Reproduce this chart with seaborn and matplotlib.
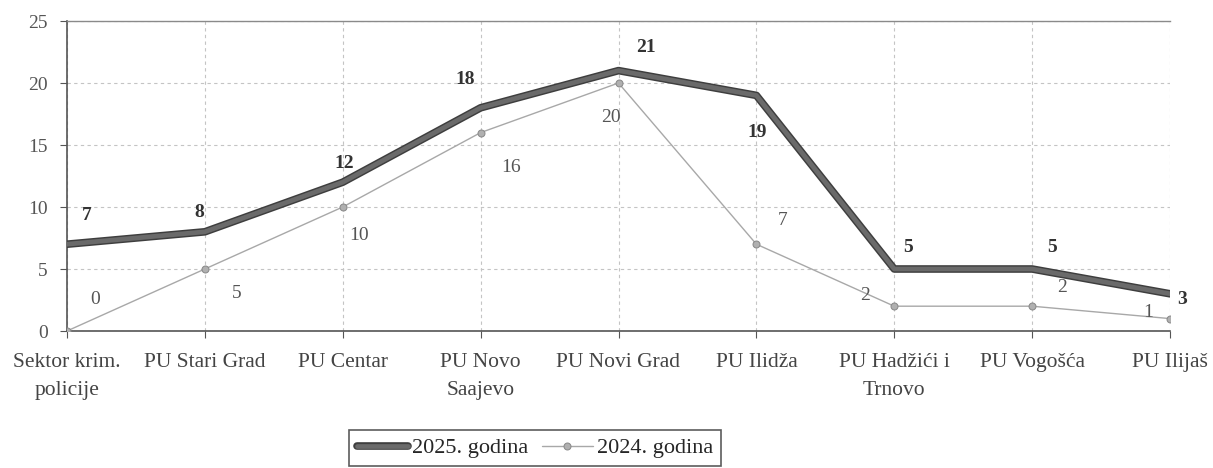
import matplotlib
matplotlib.use("Agg")
import matplotlib.pyplot as plt
import matplotlib.patheffects as pe
import seaborn as sns
import pandas as pd

categories = ["Sektor krim.\npolicije", "PU Stari Grad", "PU Centar", "PU Novo\nSaajevo",
              "PU Novi Grad", "PU Ilidža", "PU Hadžići i\nTrnovo", "PU Vogošća", "PU Ilijaš"]
values_2025 = [7, 8, 12, 18, 21, 19, 5, 5, 3]
values_2024 = [0, 5, 10, 16, 20, 7, 2, 2, 1]
y_ticks = [0, 5, 10, 15, 20, 25]

# label offsets in pixels (dx right, dy up) relative to each point
off_2025 = [(20, 29), (-6, 19), (1, 19), (-15, 28), (27, 23), (1, -37), (14, 22), (20, 22), (12, -6)]
off_2024 = [(28, 31), (32, -24), (16, -28), (30, -35), (-8, -35), (26, 24), (-29, 11), (30, 19), (-22, 6)]

sns.set_style("white")
plt.rcParams["font.family"] = ["Liberation Serif", "DejaVu Serif"]

fig = plt.figure(figsize=(12.13, 4.68), dpi=100)
ax = fig.add_axes([67 / 1213, 1 - 331 / 468, 1103 / 1213, 310 / 468])

x = list(range(len(categories)))
df = pd.DataFrame({"x": x, "2025": values_2025, "2024": values_2024})

sns.lineplot(data=df, x="x", y="2024", ax=ax, color="#a8a8a8", linewidth=1.0,
             marker="o", markersize=5, markerfacecolor="#b0b0b0",
             markeredgecolor="#8a8a8a", label="2024. godina", zorder=3)
sns.lineplot(data=df, x="x", y="2025", ax=ax, color="#6a6a6a", linewidth=3.4,
             label="2025. godina", zorder=4,
             path_effects=[pe.Stroke(linewidth=5.5, foreground="#3e3e3e"), pe.Normal()])

for xi, v, (dx, dy) in zip(x, values_2025, off_2025):
    ax.annotate(str(v), (xi, v), xytext=(dx * 0.72, dy * 0.72), textcoords="offset points",
                ha="center", va="center", fontsize=14, fontweight="bold", color="#333333")
for xi, v, (dx, dy) in zip(x, values_2024, off_2024):
    ax.annotate(str(v), (xi, v), xytext=(dx * 0.72, dy * 0.72), textcoords="offset points",
                ha="center", va="center", fontsize=14, color="#555555")

ax.set_xlim(0, len(categories) - 1)
ax.set_ylim(0, 25)
ax.set_yticks(y_ticks)
ax.set_xticks(x)
ax.set_xticklabels(categories, fontsize=15.5, color="#444444", linespacing=1.6)
ax.tick_params(axis="y", labelsize=14, labelcolor="#555555", length=5, color="#555555",
               direction="out", left=True, pad=9)
ax.tick_params(axis="x", length=5, color="#555555", direction="out", bottom=True, pad=11)
ax.set_xlabel("")
ax.set_ylabel("")

ax.grid(True, linestyle=(0, (3, 3)), color="#c4c4c4", linewidth=0.8)
ax.set_axisbelow(True)
for side in ["left", "bottom"]:
    ax.spines[side].set_color("#555555")
    ax.spines[side].set_linewidth(1.2)
ax.spines["top"].set_color("#8a8a8a")
ax.spines["top"].set_linewidth(1.0)
ax.spines["right"].set_visible(False)

handles, labels = ax.get_legend_handles_labels()
order = [labels.index("2025. godina"), labels.index("2024. godina")]
leg = fig.legend([handles[i] for i in order], [labels[i] for i in order],
                 loc="upper center", bbox_to_anchor=(535 / 1213, 1 - 430 / 468), ncol=2,
                 frameon=True, fancybox=False, edgecolor="#333333", fontsize=16,
                 handlelength=2.3, handletextpad=0.2, columnspacing=0.6, borderpad=0.35,
                 borderaxespad=0)
leg.get_frame().set_linewidth(1.2)
if ax.get_legend():
    ax.get_legend().remove()

fig.savefig("out.png", dpi=100)
